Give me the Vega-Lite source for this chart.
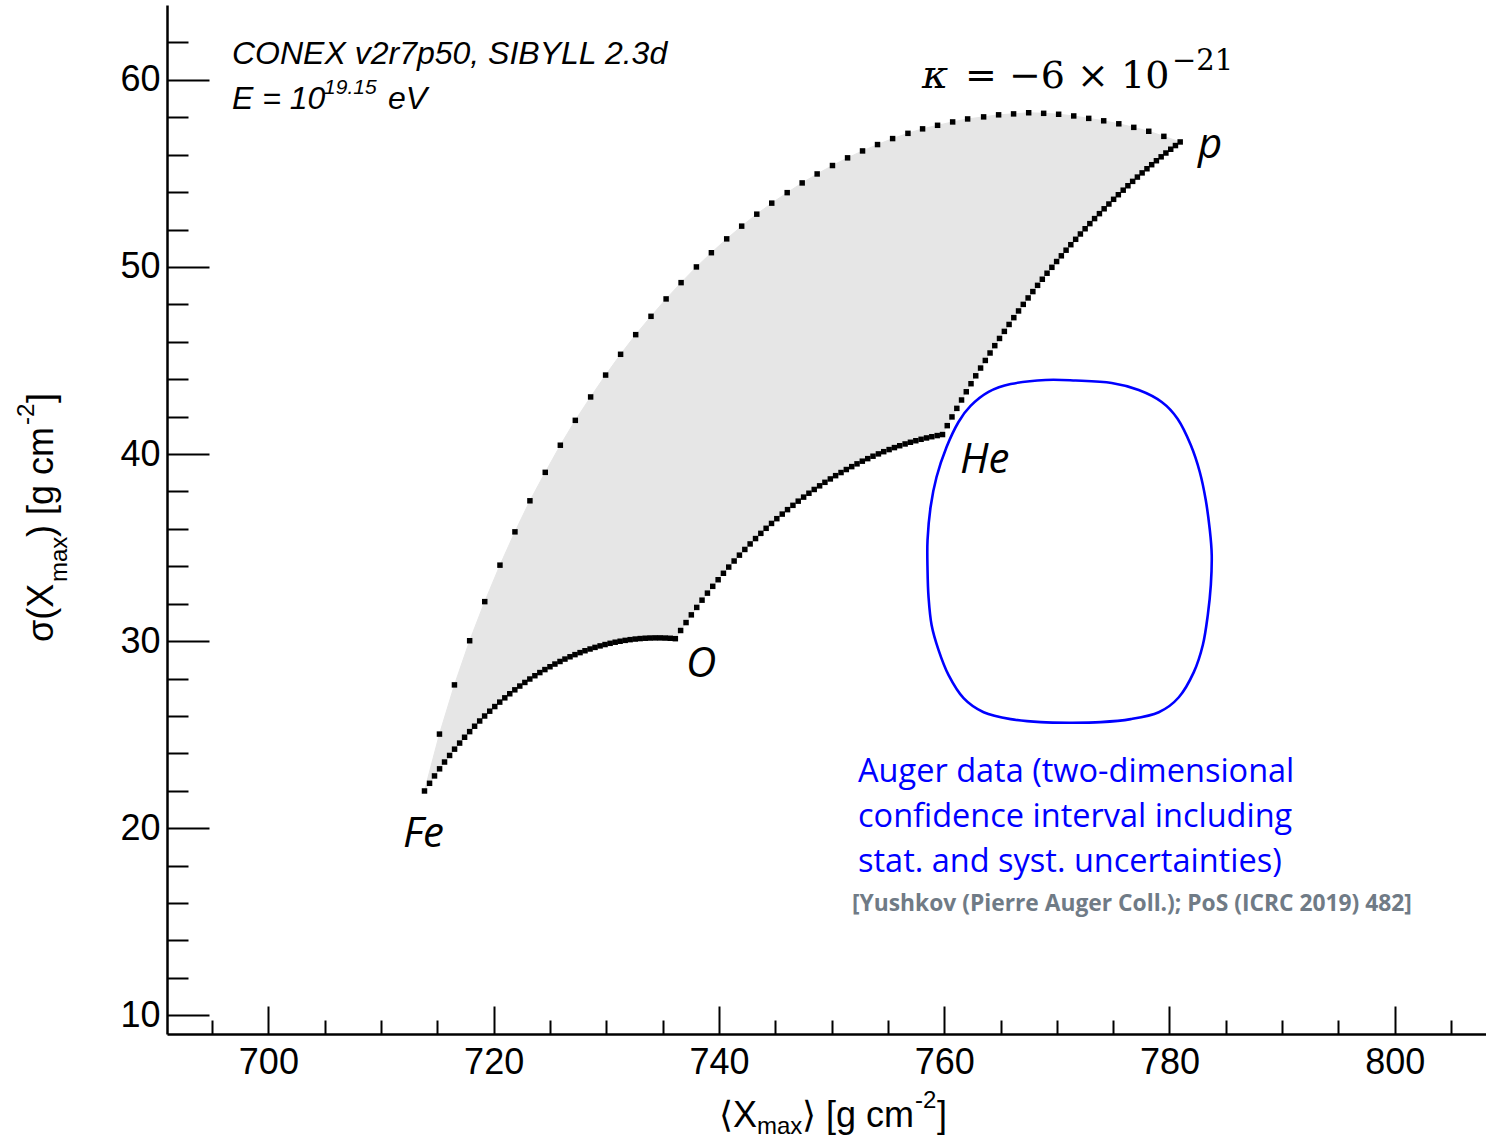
{
  "$schema": "https://vega.github.io/schema/vega-lite/v6.json",
  "width": 1319,
  "height": 1029,
  "autosize": {"type": "none"},
  "padding": {"left": 167, "top": 5, "right": 0, "bottom": 104},
  "background": "white",
  "config": {"view": {"stroke": null}},
  "datasets": {
    "region": [
      {"o":0,"x":713.86,"y":21.99},{"o":1,"x":715.19,"y":25.03},{"o":2,"x":716.52,"y":27.66},{"o":3,"x":717.87,"y":30.02},{"o":4,"x":719.21,"y":32.11},
      {"o":5,"x":720.56,"y":34.06},{"o":6,"x":721.89,"y":35.84},{"o":7,"x":723.22,"y":37.50},{"o":8,"x":724.58,"y":39.02},{"o":9,"x":725.92,"y":40.47},
      {"o":10,"x":727.25,"y":41.80},{"o":11,"x":728.61,"y":43.05},{"o":12,"x":729.94,"y":44.22},{"o":13,"x":731.27,"y":45.33},{"o":14,"x":732.61,"y":46.38},
      {"o":15,"x":733.97,"y":47.36},{"o":16,"x":735.31,"y":48.29},{"o":17,"x":736.64,"y":49.16},{"o":18,"x":738.00,"y":50.00},{"o":19,"x":739.33,"y":50.76},
      {"o":20,"x":740.69,"y":51.50},{"o":21,"x":742.02,"y":52.18},{"o":22,"x":743.36,"y":52.82},{"o":23,"x":744.69,"y":53.41},{"o":24,"x":746.06,"y":53.97},
      {"o":25,"x":747.39,"y":54.49},{"o":26,"x":748.72,"y":54.97},{"o":27,"x":750.08,"y":55.42},{"o":28,"x":751.42,"y":55.83},{"o":29,"x":752.75,"y":56.20},
      {"o":30,"x":754.08,"y":56.54},{"o":31,"x":755.42,"y":56.86},{"o":32,"x":756.78,"y":57.14},{"o":33,"x":758.08,"y":57.38},{"o":34,"x":759.41,"y":57.57},
      {"o":35,"x":760.75,"y":57.75},{"o":36,"x":762.08,"y":57.91},{"o":37,"x":763.50,"y":58.02},{"o":38,"x":764.83,"y":58.13},{"o":39,"x":766.16,"y":58.18},
      {"o":40,"x":767.50,"y":58.24},{"o":41,"x":768.83,"y":58.21},{"o":42,"x":770.16,"y":58.16},{"o":43,"x":771.50,"y":58.07},{"o":44,"x":772.83,"y":57.94},
      {"o":45,"x":774.16,"y":57.81},{"o":46,"x":775.50,"y":57.65},{"o":47,"x":776.83,"y":57.46},{"o":48,"x":778.16,"y":57.25},{"o":49,"x":779.50,"y":56.98},
      {"o":50,"x":780.95,"y":56.68},
      {"o":51,"x":780.53,"y":56.487},{"o":52,"x":780.11,"y":56.290},{"o":53,"x":779.68,"y":56.089},{"o":54,"x":779.26,"y":55.885},{"o":55,"x":778.84,"y":55.676},
      {"o":56,"x":778.42,"y":55.464},{"o":57,"x":778.00,"y":55.247},{"o":58,"x":777.57,"y":55.026},{"o":59,"x":777.15,"y":54.802},{"o":60,"x":776.73,"y":54.573},
      {"o":61,"x":776.31,"y":54.339},{"o":62,"x":775.89,"y":54.102},{"o":63,"x":775.46,"y":53.860},{"o":64,"x":775.04,"y":53.614},{"o":65,"x":774.62,"y":53.363},
      {"o":66,"x":774.20,"y":53.108},{"o":67,"x":773.78,"y":52.848},{"o":68,"x":773.35,"y":52.583},{"o":69,"x":772.93,"y":52.314},{"o":70,"x":772.51,"y":52.040},
      {"o":71,"x":772.09,"y":51.761},{"o":72,"x":771.67,"y":51.477},{"o":73,"x":771.24,"y":51.188},{"o":74,"x":770.82,"y":50.894},{"o":75,"x":770.40,"y":50.594},
      {"o":76,"x":769.98,"y":50.289},{"o":77,"x":769.56,"y":49.979},{"o":78,"x":769.13,"y":49.663},{"o":79,"x":768.71,"y":49.342},{"o":80,"x":768.29,"y":49.015},
      {"o":81,"x":767.87,"y":48.682},{"o":82,"x":767.45,"y":48.343},{"o":83,"x":767.02,"y":47.998},{"o":84,"x":766.60,"y":47.647},{"o":85,"x":766.18,"y":47.289},
      {"o":86,"x":765.76,"y":46.925},{"o":87,"x":765.34,"y":46.554},{"o":88,"x":764.91,"y":46.177},{"o":89,"x":764.49,"y":45.792},{"o":90,"x":764.07,"y":45.400},
      {"o":91,"x":763.65,"y":45.001},{"o":92,"x":763.23,"y":44.595},{"o":93,"x":762.80,"y":44.180},{"o":94,"x":762.38,"y":43.758},{"o":95,"x":761.96,"y":43.327},
      {"o":96,"x":761.54,"y":42.887},{"o":97,"x":761.12,"y":42.440},{"o":98,"x":760.69,"y":41.983},{"o":99,"x":760.27,"y":41.516},{"o":100,"x":759.85,"y":41.040},
      {"o":101,"x":759.38,"y":40.985},{"o":102,"x":758.90,"y":40.925},{"o":103,"x":758.43,"y":40.859},{"o":104,"x":757.95,"y":40.787},{"o":105,"x":757.48,"y":40.710},
      {"o":106,"x":757.00,"y":40.627},{"o":107,"x":756.53,"y":40.538},{"o":108,"x":756.05,"y":40.444},{"o":109,"x":755.58,"y":40.343},{"o":110,"x":755.11,"y":40.237},
      {"o":111,"x":754.63,"y":40.125},{"o":112,"x":754.16,"y":40.007},{"o":113,"x":753.68,"y":39.883},{"o":114,"x":753.21,"y":39.753},{"o":115,"x":752.73,"y":39.617},
      {"o":116,"x":752.26,"y":39.475},{"o":117,"x":751.79,"y":39.326},{"o":118,"x":751.31,"y":39.171},{"o":119,"x":750.84,"y":39.010},{"o":120,"x":750.36,"y":38.843},
      {"o":121,"x":749.89,"y":38.668},{"o":122,"x":749.41,"y":38.487},{"o":123,"x":748.94,"y":38.300},{"o":124,"x":748.46,"y":38.105},{"o":125,"x":747.99,"y":37.904},
      {"o":126,"x":747.52,"y":37.696},{"o":127,"x":747.04,"y":37.480},{"o":128,"x":746.57,"y":37.257},{"o":129,"x":746.09,"y":37.027},{"o":130,"x":745.62,"y":36.789},
      {"o":131,"x":745.14,"y":36.544},{"o":132,"x":744.67,"y":36.290},{"o":133,"x":744.19,"y":36.029},{"o":134,"x":743.72,"y":35.759},{"o":135,"x":743.25,"y":35.481},
      {"o":136,"x":742.77,"y":35.194},{"o":137,"x":742.30,"y":34.899},{"o":138,"x":741.82,"y":34.594},{"o":139,"x":741.35,"y":34.281},{"o":140,"x":740.87,"y":33.957},
      {"o":141,"x":740.40,"y":33.625},{"o":142,"x":739.93,"y":33.281},{"o":143,"x":739.45,"y":32.928},{"o":144,"x":738.98,"y":32.564},{"o":145,"x":738.50,"y":32.188},
      {"o":146,"x":738.03,"y":31.801},{"o":147,"x":737.55,"y":31.403},{"o":148,"x":737.08,"y":30.991},{"o":149,"x":736.60,"y":30.567},{"o":150,"x":736.13,"y":30.130},
      {"o":151,"x":735.68,"y":30.151},{"o":152,"x":735.24,"y":30.164},{"o":153,"x":734.79,"y":30.172},{"o":154,"x":734.35,"y":30.172},{"o":155,"x":733.90,"y":30.166},
      {"o":156,"x":733.46,"y":30.154},{"o":157,"x":733.01,"y":30.135},{"o":158,"x":732.57,"y":30.110},{"o":159,"x":732.12,"y":30.078},{"o":160,"x":731.68,"y":30.039},
      {"o":161,"x":731.23,"y":29.993},{"o":162,"x":730.79,"y":29.941},{"o":163,"x":730.34,"y":29.882},{"o":164,"x":729.89,"y":29.816},{"o":165,"x":729.45,"y":29.744},
      {"o":166,"x":729.00,"y":29.664},{"o":167,"x":728.56,"y":29.578},{"o":168,"x":728.11,"y":29.485},{"o":169,"x":727.67,"y":29.385},{"o":170,"x":727.22,"y":29.277},
      {"o":171,"x":726.78,"y":29.163},{"o":172,"x":726.33,"y":29.040},{"o":173,"x":725.89,"y":28.911},{"o":174,"x":725.44,"y":28.774},{"o":175,"x":725.00,"y":28.630},
      {"o":176,"x":724.55,"y":28.478},{"o":177,"x":724.10,"y":28.318},{"o":178,"x":723.66,"y":28.150},{"o":179,"x":723.21,"y":27.974},{"o":180,"x":722.77,"y":27.790},
      {"o":181,"x":722.32,"y":27.598},{"o":182,"x":721.88,"y":27.396},{"o":183,"x":721.43,"y":27.186},{"o":184,"x":720.99,"y":26.968},{"o":185,"x":720.54,"y":26.739},
      {"o":186,"x":720.10,"y":26.502},{"o":187,"x":719.65,"y":26.254},{"o":188,"x":719.20,"y":25.997},{"o":189,"x":718.76,"y":25.730},{"o":190,"x":718.31,"y":25.451},
      {"o":191,"x":717.87,"y":25.162},{"o":192,"x":717.42,"y":24.862},{"o":193,"x":716.98,"y":24.549},{"o":194,"x":716.53,"y":24.225},{"o":195,"x":716.09,"y":23.888},
      {"o":196,"x":715.64,"y":23.537},{"o":197,"x":715.20,"y":23.173},{"o":198,"x":714.75,"y":22.794},{"o":199,"x":714.31,"y":22.400}
    ],
    "auger": [
      {"o":0,"x":769.00,"y":43.96},{"o":1,"x":771.67,"y":43.93},{"o":2,"x":774.87,"y":43.80},{"o":3,"x":777.27,"y":43.42},{"o":4,"x":779.31,"y":42.78},
      {"o":5,"x":780.73,"y":41.87},{"o":6,"x":781.89,"y":40.48},{"o":7,"x":782.69,"y":39.04},{"o":8,"x":783.22,"y":37.54},{"o":9,"x":783.58,"y":35.94},
      {"o":10,"x":783.75,"y":34.60},{"o":11,"x":783.67,"y":32.99},{"o":12,"x":783.40,"y":31.39},{"o":13,"x":782.96,"y":29.79},{"o":14,"x":782.16,"y":28.34},
      {"o":15,"x":780.83,"y":27.00},{"o":16,"x":779.05,"y":26.20},{"o":17,"x":776.56,"y":25.83},{"o":18,"x":773.90,"y":25.67},{"o":19,"x":771.23,"y":25.64},
      {"o":20,"x":768.57,"y":25.67},{"o":21,"x":765.90,"y":25.83},{"o":22,"x":763.50,"y":26.20},{"o":23,"x":761.72,"y":26.95},{"o":24,"x":760.39,"y":28.18},
      {"o":25,"x":759.50,"y":29.52},{"o":26,"x":758.88,"y":30.86},{"o":27,"x":758.61,"y":32.35},{"o":28,"x":758.52,"y":33.80},{"o":29,"x":758.52,"y":35.40},
      {"o":30,"x":758.79,"y":37.17},{"o":31,"x":759.32,"y":38.77},{"o":32,"x":760.21,"y":40.37},{"o":33,"x":761.27,"y":41.71},{"o":34,"x":762.34,"y":42.57},
      {"o":35,"x":763.94,"y":43.32},{"o":36,"x":765.90,"y":43.74}
    ]
  },
  "encoding": {
    "x": {
      "field": "x", "type": "quantitative",
      "scale": {"domain": [691, 808.1], "nice": false, "zero": false},
      "axis": {
        "values": [695,700,705,710,715,720,725,730,735,740,745,750,755,760,765,770,775,780,785,790,795,800,805],
        "labelExpr": "datum.value % 20 === 0 ? datum.label : ''",
        "tickSize": {"condition": {"test": "datum.value % 20 === 0", "value": -28}, "value": -14},
        "labelPadding": 39,
        "labelFont": "Liberation Sans", "labelFontSize": 36, "labelColor": "black",
        "tickColor": "black", "tickWidth": 2,
        "domainColor": "black", "domainWidth": 2.5,
        "grid": false, "title": null, "labelOverlap": false, "labelFlush": false
      }
    },
    "y": {
      "field": "y", "type": "quantitative",
      "scale": {"domain": [9, 64], "nice": false, "zero": false},
      "axis": {
        "values": [10,12,14,16,18,20,22,24,26,28,30,32,34,36,38,40,42,44,46,48,50,52,54,56,58,60,62],
        "labelExpr": "datum.value % 10 === 0 ? datum.label : ''",
        "tickSize": {"condition": {"test": "datum.value % 10 === 0", "value": -42}, "value": -21},
        "labelPadding": 49,
        "labelFont": "Liberation Sans", "labelFontSize": 36, "labelColor": "black",
        "tickColor": "black", "tickWidth": 2,
        "domainColor": "black", "domainWidth": 2.5,
        "grid": false, "title": null, "labelOverlap": false, "labelFlush": false
      }
    }
  },
  "layer": [
    {
      "data": {"name": "region"},
      "mark": {"type": "line", "fill": "#e6e6e6", "stroke": "#e6e6e6", "strokeWidth": 1, "interpolate": "linear"},
      "encoding": {"order": {"field": "o", "type": "quantitative"}}
    },
    {
      "data": {"name": "auger"},
      "mark": {"type": "line", "stroke": "#0000ff", "strokeWidth": 2.6, "interpolate": "cardinal-closed"},
      "encoding": {"order": {"field": "o", "type": "quantitative"}}
    },
    {
      "data": {"name": "region"},
      "mark": {"type": "square", "size": 30, "color": "black", "filled": true, "opacity": 1}
    },
    {
      "data": {"values": [{}]},
      "mark": {"type": "rule", "color": "black", "strokeWidth": 2},
      "encoding": {"x": {"datum": 691}, "x2": {"datum": 808.1}, "y": {"datum": 64}}
    },
    {
      "data": {"values": [
        {"t": "CONEX v2r7p50, SIBYLL 2.3d", "x": 696.77, "y": 60.85},
        {"t": "E = 10", "x": 696.77, "y": 58.44},
        {"t": "eV", "x": 710.62, "y": 58.44}
      ]},
      "mark": {"type": "text", "align": "left", "baseline": "alphabetic", "font": "Liberation Sans", "fontStyle": "italic", "fontSize": 32, "color": "black"},
      "encoding": {"text": {"field": "t"}}
    },
    {
      "data": {"values": [{"t": "19.15", "x": 704.94, "y": 59.24}]},
      "mark": {"type": "text", "align": "left", "baseline": "alphabetic", "font": "Liberation Sans", "fontStyle": "italic", "fontSize": 21, "color": "black"},
      "encoding": {"text": {"field": "t"}}
    },
    {
      "data": {"values": [{"t": "κ", "x": 758.03, "y": 59.56}]},
      "mark": {"type": "text", "align": "left", "baseline": "alphabetic", "font": "DejaVu Serif", "fontStyle": "italic", "fontSize": 40, "color": "black"},
      "encoding": {"text": {"field": "t"}}
    },
    {
      "data": {"values": [{"t": "= −6 × 10", "x": 761.85, "y": 59.56}]},
      "mark": {"type": "text", "align": "left", "baseline": "alphabetic", "font": "DejaVu Serif", "fontSize": 38, "color": "black"},
      "encoding": {"text": {"field": "t"}}
    },
    {
      "data": {"values": [{"t": "−21", "x": 780.22, "y": 60.53}]},
      "mark": {"type": "text", "align": "left", "baseline": "alphabetic", "font": "DejaVu Serif", "fontSize": 29, "color": "black"},
      "encoding": {"text": {"field": "t"}}
    },
    {
      "data": {"values": [
        {"t": "p", "x": 782.53, "y": 55.82},
        {"t": "He", "x": 761.40, "y": 38.99},
        {"t": "O", "x": 737.08, "y": 28.08},
        {"t": "Fe", "x": 711.95, "y": 18.99}
      ]},
      "mark": {"type": "text", "align": "left", "baseline": "alphabetic", "font": "Open Sans", "fontStyle": "italic", "fontSize": 42, "color": "black"},
      "encoding": {"text": {"field": "t"}}
    },
    {
      "data": {"values": [
        {"t": "Auger data (two-dimensional", "x": 752.35, "y": 22.47},
        {"t": "confidence interval including", "x": 752.35, "y": 20.06},
        {"t": "stat. and syst. uncertainties)", "x": 752.35, "y": 17.66}
      ]},
      "mark": {"type": "text", "align": "left", "baseline": "alphabetic", "font": "Open Sans", "fontSize": 32.5, "color": "#0000ff"},
      "encoding": {"text": {"field": "t"}}
    },
    {
      "data": {"values": [{"t": "[Yushkov (Pierre Auger Coll.); PoS (ICRC 2019) 482]", "x": 751.81, "y": 15.57}]},
      "mark": {"type": "text", "align": "left", "baseline": "alphabetic", "font": "Open Sans", "fontWeight": "bold", "fontSize": 22.8, "color": "#707b86"},
      "encoding": {"text": {"field": "t"}}
    },
    {
      "data": {"values": [
        {"t": "⟨X", "x": 740.01, "y": 4.03},
        {"t": "⟩", "x": 747.37, "y": 4.03},
        {"t": "[g cm", "x": 749.51, "y": 4.03},
        {"t": "]", "x": 759.36, "y": 4.03}
      ]},
      "mark": {"type": "text", "align": "left", "baseline": "alphabetic", "font": "Liberation Sans", "fontSize": 36, "color": "black"},
      "encoding": {"text": {"field": "t"}}
    },
    {
      "data": {"values": [
        {"t": "max", "x": 743.38, "y": 3.66},
        {"t": "-2", "x": 757.41, "y": 5.04}
      ]},
      "mark": {"type": "text", "align": "left", "baseline": "alphabetic", "font": "Liberation Sans", "fontSize": 24, "color": "black"},
      "encoding": {"text": {"field": "t"}}
    },
    {
      "data": {"values": [
        {"t": "σ(X", "x": 680.88, "y": 29.95},
        {"t": ") [g cm", "x": 680.88, "y": 35.56},
        {"t": "]", "x": 680.88, "y": 42.73}
      ]},
      "mark": {"type": "text", "align": "left", "baseline": "alphabetic", "angle": 270, "font": "Liberation Sans", "fontSize": 36, "color": "black"},
      "encoding": {"text": {"field": "t"}}
    },
    {
      "data": {"values": [
        {"t": "max", "x": 682.12, "y": 33.16},
        {"t": "-2", "x": 679.19, "y": 41.55}
      ]},
      "mark": {"type": "text", "align": "left", "baseline": "alphabetic", "angle": 270, "font": "Liberation Sans", "fontSize": 24, "color": "black"},
      "encoding": {"text": {"field": "t"}}
    }
  ]
}
